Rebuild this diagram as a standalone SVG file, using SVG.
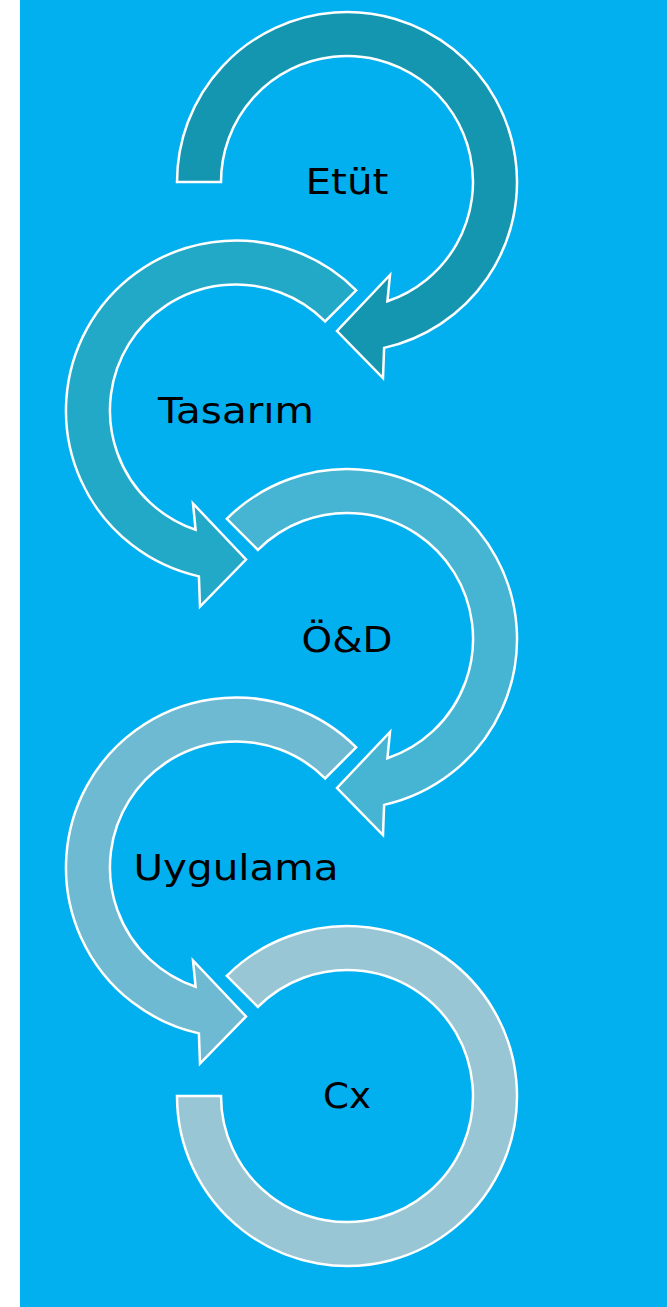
<svg xmlns="http://www.w3.org/2000/svg" width="667" height="1307" viewBox="0 0 667 1307">
<style>
.arr{stroke:#FFFFFF;stroke-width:2.5;stroke-linejoin:miter}
.lbl{font-family:"DejaVu Sans","Liberation Sans",sans-serif;font-size:36px;fill:#000000;text-anchor:middle}
</style>
<rect x="0" y="0" width="667" height="1307" fill="#FFFFFF"/>
<rect x="20" y="0" width="647" height="1307" fill="#02B0F0"/>
<g id="node-etut" transform="translate(347,182)">
<path class="arr" fill="#1496B0" d="M -170 0 A 170 170 0 1 1 37.1 165.9 L 36 196 L -10 149 L 43 93 L 40.4 119.3 A 126 126 0 1 0 -126 0 Z"/>
<text class="lbl" x="0" y="12" textLength="83" lengthAdjust="spacingAndGlyphs">Etüt</text>
</g>
<g id="node-tasarim" transform="translate(236,410.5)">
<path class="arr" fill="#22A9C7" d="M 120.2 -120.2 A 170 170 0 1 0 -37.1 165.9 L -36 196 L 10 149 L -43 93 L -40.4 119.3 A 126 126 0 1 1 89.1 -89.1 Z"/>
<text class="lbl" x="0" y="12.5" textLength="156" lengthAdjust="spacingAndGlyphs">Tasarım</text>
</g>
<g id="node-od" transform="translate(347,639)">
<path class="arr" fill="#46B5D3" d="M -120.2 -120.2 A 170 170 0 1 1 37.1 165.9 L 36 196 L -10 149 L 43 93 L 40.4 119.3 A 126 126 0 1 0 -89.1 -89.1 Z"/>
<text class="lbl" x="0" y="12.5" textLength="91" lengthAdjust="spacingAndGlyphs">Ö&amp;D</text>
</g>
<g id="node-uygulama" transform="translate(236,867.5)">
<path class="arr" fill="#6FBAD3" d="M 120.2 -120.2 A 170 170 0 1 0 -37.1 165.9 L -36 196 L 10 149 L -43 93 L -40.4 119.3 A 126 126 0 1 1 89.1 -89.1 Z"/>
<text class="lbl" x="0" y="12.5" textLength="205" lengthAdjust="spacingAndGlyphs">Uygulama</text>
</g>
<g id="node-cx" transform="translate(347,1096)">
<path class="arr" fill="#98C6D4" d="M -120.2 -120.2 A 170 170 0 1 1 -170 0 L -126 0 A 126 126 0 1 0 -89.1 -89.1 Z"/>
<text class="lbl" x="0" y="12" textLength="48" lengthAdjust="spacingAndGlyphs">Cx</text>
</g>
<g id="connectors"></g>
</svg>
